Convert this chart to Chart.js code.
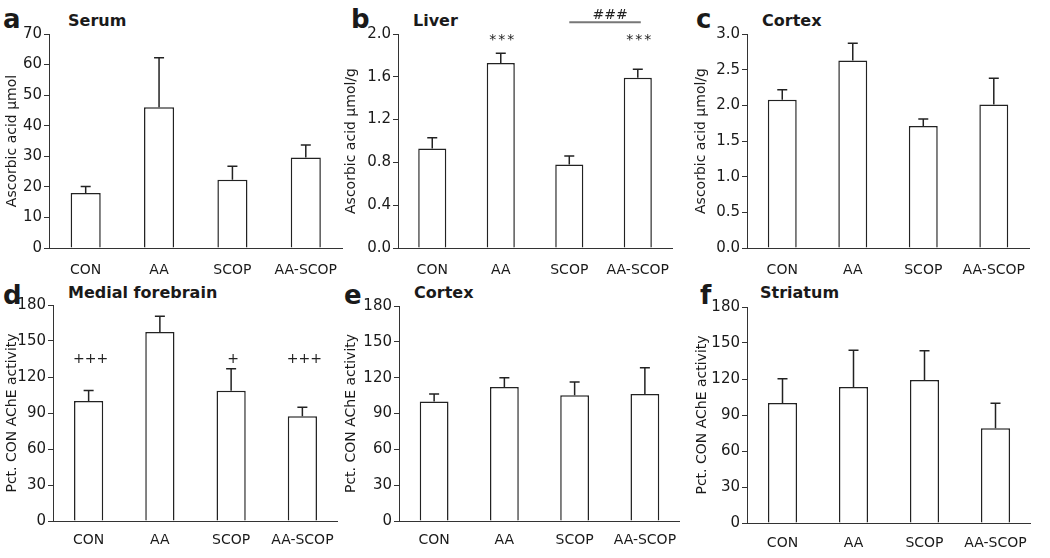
<!DOCTYPE html>
<html>
<head>
<meta charset="utf-8">
<script src="https://cdn.jsdelivr.net/npm/chart.js@4.4.0/dist/chart.umd.min.js"></script>
<style>
  body { margin: 0; background: #fff; width: 1050px; height: 558px; position: relative; overflow: hidden;
         font-family: "DejaVu Sans", sans-serif; color: #1a1a1a; }
  canvas { position: absolute; }
  .letter { position: absolute; font-weight: bold; font-size: 26px; line-height: 26px; }
  .title { position: absolute; font-weight: bold; font-size: 16px; line-height: 16px; }
</style>
</head>
<body>
<div class="letter" style="left:3px;top:6px">a</div>
<div class="title" style="left:68px;top:13px">Serum</div>
<div class="letter" style="left:351px;top:6px">b</div>
<div class="title" style="left:413px;top:13px">Liver</div>
<div class="letter" style="left:696px;top:6px">c</div>
<div class="title" style="left:762px;top:13px">Cortex</div>
<div class="letter" style="left:3px;top:282px">d</div>
<div class="title" style="left:68px;top:285px">Medial forebrain</div>
<div class="letter" style="left:344px;top:282px">e</div>
<div class="title" style="left:414px;top:285px">Cortex</div>
<div class="letter" style="left:700px;top:282px">f</div>
<div class="title" style="left:760px;top:285px">Striatum</div>

<canvas id="chartA" width="339" height="279" style="left:4px;top:0px"></canvas>
<canvas id="chartB" width="332" height="279" style="left:343px;top:0px"></canvas>
<canvas id="chartC" width="338" height="279" style="left:693px;top:0px"></canvas>
<canvas id="chartD" width="334" height="279" style="left:4px;top:279px"></canvas>
<canvas id="chartE" width="337" height="279" style="left:343px;top:279px"></canvas>
<canvas id="chartF" width="337" height="279" style="left:694px;top:279px"></canvas>

<script>
// grupos
const groups = ["CON", "AA", "SCOP", "AA-SCOP"];

// acido ascorbico (media y error)
const serumMean = [18.0, 46.0, 22.3, 29.6];
const serumSem = [2.1, 16.2, 4.4, 4.1];
const liverMean = [0.93, 1.73, 0.78, 1.59];
const liverSem = [0.10, 0.09, 0.08, 0.08];
const cortexAAMean = [2.08, 2.63, 1.71, 2.01];
const cortexAASem = [0.14, 0.24, 0.10, 0.37];

// actividad AChE (% de CON)
const forebrainMean = [100, 157.6, 108.6, 87.2];
const forebrainSem = [8.8, 13.0, 18.2, 7.5];
const cortexAChEMean = [100, 112.1, 105.2, 106.3];
const cortexAChESem = [6.3, 7.8, 11.1, 22.0];
const striatumMean = [100, 113.3, 119.2, 78.9];
const striatumSem = [20.3, 30.6, 24.4, 20.8];

// ejes
const serumTicks = [0, 70, 10];
const liverTicks = [0, 2.0, 0.4];
const cortexAATicks = [0, 3.0, 0.5];
const achETicks = [0, 180, 30];

// marcas de significancia
const liverNotes = [
  { index: 1, value: 1.94, text: "***" },
  { index: 3, value: 1.94, text: "***" },
  { from: 2, to: 3, value: 2.11, text: "###" },
];
const forebrainNotes = [
  { index: 0, value: 135, text: "+++" },
  { index: 2, value: 135, text: "+" },
  { index: 3, value: 135, text: "+++" },
];

Chart.defaults.font.family = "'DejaVu Sans', sans-serif";
Chart.defaults.font.size = 14;
Chart.defaults.color = "#1a1a1a";

//Plugin que dibuja barras de error y anotaciones
function errorBarPlugin(sem, notes) {
  return {
    id: "errorBars",
    afterDatasetsDraw(chart) {
      const ctx = chart.ctx;
      const yScale = chart.scales.y;
      const bars = chart.getDatasetMeta(0).data;
      const mean = chart.data.datasets[0].data;
      ctx.save();
      ctx.strokeStyle = "#222";
      ctx.lineWidth = 1.5;
      bars.forEach((bar, i) => {
        const top = yScale.getPixelForValue(mean[i] + sem[i]);
        ctx.beginPath();
        ctx.moveTo(bar.x, bar.y);
        ctx.lineTo(bar.x, top);
        ctx.moveTo(bar.x - 5, top);
        ctx.lineTo(bar.x + 5, top);
        ctx.stroke();
      });
      ctx.fillStyle = "#222";
      ctx.font = "14px 'DejaVu Sans'";
      ctx.textAlign = "center";
      ctx.textBaseline = "middle";
      notes.forEach((n) => {
        const py = yScale.getPixelForValue(n.value);
        if (n.to !== undefined) {
          const x1 = bars[n.from].x;
          const x2 = bars[n.to].x + 3;
          ctx.strokeStyle = "#777";
          ctx.lineWidth = 2;
          ctx.beginPath();
          ctx.moveTo(x1, py);
          ctx.lineTo(x2, py);
          ctx.stroke();
          ctx.fillText(n.text, (x1 + x2) / 2 + 5, py - 7);
        } else {
          // los asteriscos van mas separados
          ctx.letterSpacing = n.text === "***" ? "2px" : "0px";
          ctx.fillText(n.text, bars[n.index].x + 2, py);
          ctx.letterSpacing = "0px";
        }
      });
      ctx.restore();
    },
  };
}

//Crea un panel
function makePanel(id, mean, sem, ticks, decimals, yTitle, notes, padTop, yWidth, xHeight, labelPad) {
  const [min, max, step] = ticks;
  return new Chart(document.getElementById(id), {
    type: "bar",
    data: {
      labels: groups,
      datasets: [
        {
          data: mean,
          backgroundColor: "#fff",
          borderColor: "#222",
          borderWidth: 1.5,
          barPercentage: 0.41,
          categoryPercentage: 1,
        },
      ],
    },
    options: {
      responsive: false,
      animation: false,
      devicePixelRatio: 1,
      layout: { padding: { top: padTop, left: 0, right: 0, bottom: 0 } },
      plugins: { legend: { display: false }, tooltip: { enabled: false } },
      scales: {
        x: {
          grid: { display: false },
          border: { color: "#333", width: 1 },
          ticks: { padding: labelPad },
          afterFit: (s) => { s.height = xHeight; },
        },
        y: {
          min: min,
          max: max,
          grid: { drawOnChartArea: false, drawTicks: true, tickLength: 5, color: "#333" },
          border: { color: "#333", width: 1 },
          ticks: {
            stepSize: step,
            padding: 2,
            font: { size: 15 },
            callback: (v) => Number(v).toFixed(decimals),
          },
          title: { display: true, text: yTitle, padding: 0, font: { size: 14 } },
          afterFit: (s) => { s.width = yWidth; },
        },
      },
    },
    plugins: [errorBarPlugin(sem, notes)],
  });
}

makePanel("chartA", serumMean, serumSem, serumTicks, 0, "Ascorbic acid µmol", [], 34, 45, 31, 6);
makePanel("chartB", liverMean, liverSem, liverTicks, 1, "Ascorbic acid µmol/g", liverNotes, 34, 55, 31, 6);
makePanel("chartC", cortexAAMean, cortexAASem, cortexAATicks, 1, "Ascorbic acid µmol/g", [], 34, 54, 31, 6);
makePanel("chartD", forebrainMean, forebrainSem, achETicks, 0, "Pct. CON AChE activity", forebrainNotes, 26, 49, 37, 3);
makePanel("chartE", cortexAChEMean, cortexAChESem, achETicks, 0, "Pct. CON AChE activity", [], 27, 56, 37, 3);
makePanel("chartF", striatumMean, striatumSem, achETicks, 0, "Pct. CON AChE activity", [], 28, 53, 35, 4);
</script>
</body>
</html>
